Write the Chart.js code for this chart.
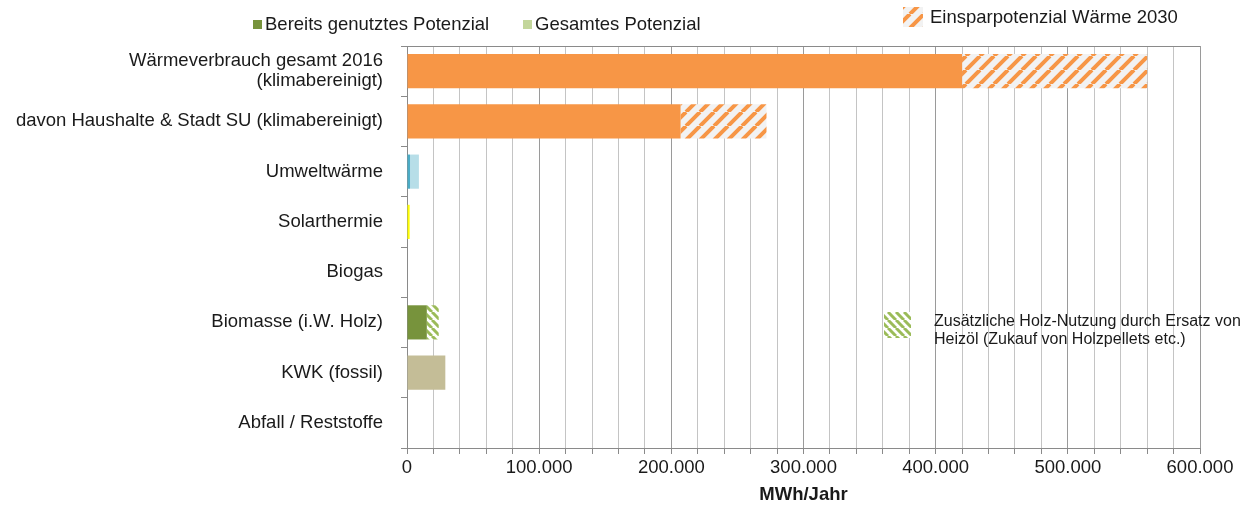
<!DOCTYPE html>
<html>
<head>
<meta charset="utf-8">
<script src="https://cdn.jsdelivr.net/npm/chart.js@4/dist/chart.umd.min.js"></script>
<style>
  html, body { margin: 0; padding: 0; background: #fff; }
  #wrap { width: 1252px; height: 506px; position: relative; }
</style>
</head>
<body>
<div id="wrap"><canvas id="chart"></canvas></div>
<script>
// categories top to bottom
const categories = [
  ["Wärmeverbrauch gesamt 2016", "(klimabereinigt)"],
  "davon Haushalte & Stadt SU (klimabereinigt)",
  "Umweltwärme",
  "Solarthermie",
  "Biogas",
  "Biomasse (i.W. Holz)",
  "KWK (fossil)",
  "Abfall / Reststoffe"
];
// MWh/Jahr, already used part (first segment)
const genutzt = [420000, 207000, 2300, 2000, 0, 15000, 29000, 0];
// additional potential / savings (second segment)
const zusatz = [140000, 65000, 6700, 0, 0, 9000, 0, 0];
const xTicks = [0, 100000, 200000, 300000, 400000, 500000, 600000];

const FONT = "'Liberation Sans', Arial, sans-serif";
const FS = 18.5;

// striped fills
function stripes(bg, fg, size, dir, w) {
  const c = document.createElement("canvas");
  c.width = c.height = size;
  const x = c.getContext("2d");
  x.fillStyle = bg;
  x.fillRect(0, 0, size, size);
  x.strokeStyle = fg;
  x.lineWidth = w;
  x.beginPath();
  for (let k = -1; k <= 1; k++) {
    if (dir > 0) { x.moveTo(k * size, size); x.lineTo(k * size + size, 0); }
    else { x.moveTo(k * size, 0); x.lineTo(k * size + size, size); }
  }
  x.stroke();
  return x.createPattern(c, "repeat");
}
const orangeHatch = stripes("#F2F2F2", "#F79646", 14, 1, 4);
const greenHatch = stripes("#FFFFFF", "#9BBB59", 8, -1, 3);

const genutztColors = ["#F79646", "#F79646", "#4BACC6", "#FFFF00", "#FFFF00", "#77933C", "#C4BD97", "#C4BD97"];
const zusatzColors = [orangeHatch, orangeHatch, "#B7DEE8", "#FFFF00", "#FFFF00", greenHatch, "#C4BD97", "#C4BD97"];

function fmt(v) {
  return String(v).replace(/\B(?=(\d{3})+(?!\d))/g, ".");
}

// legends are placed freely, like in the original
const legendPlugin = {
  id: "freeLegend",
  afterDraw(chart) {
    const ctx = chart.ctx;
    ctx.save();
    ctx.font = FS + "px " + FONT;
    ctx.fillStyle = "#1a1a1a";
    ctx.textBaseline = "middle";
    ctx.textAlign = "left";

    ctx.fillStyle = "#77933C";
    ctx.fillRect(253, 20, 9, 9);
    ctx.fillStyle = "#1a1a1a";
    ctx.fillText("Bereits genutztes Potenzial", 265, 25);

    ctx.fillStyle = "#C3D69B";
    ctx.fillRect(523, 20, 9, 9);
    ctx.fillStyle = "#1a1a1a";
    ctx.fillText("Gesamtes Potenzial", 535, 25);

    ctx.fillStyle = orangeHatch;
    ctx.fillRect(903, 7, 20, 20);
    ctx.fillStyle = "#1a1a1a";
    ctx.fillText("Einsparpotenzial Wärme 2030", 930, 18);

    ctx.fillStyle = greenHatch;
    ctx.fillRect(884, 312, 27, 26);
    ctx.fillStyle = "#1a1a1a";
    ctx.font = "16px " + FONT;
    ctx.fillText("Zusätzliche Holz-Nutzung durch Ersatz von", 934, 322);
    ctx.fillText("Heizöl (Zukauf von Holzpellets etc.)", 934, 340);
    ctx.restore();
  }
};

new Chart(document.getElementById("chart"), {
  type: "bar",
  data: {
    labels: categories,
    datasets: [
      { label: "Bereits genutztes Potenzial", data: genutzt, backgroundColor: genutztColors },
      { label: "Zusätzlich", data: zusatz, backgroundColor: zusatzColors }
    ]
  },
  options: {
    indexAxis: "y",
    responsive: true,
    maintainAspectRatio: false,
    animation: false,
    categoryPercentage: 1,
    barPercentage: 0.68,
    layout: { padding: { top: 46, right: 52, left: 0, bottom: 0 } },
    plugins: { legend: { display: false }, tooltip: { enabled: false } },
    scales: {
      x: {
        stacked: true,
        min: 0,
        max: 600000,
        afterBuildTicks(scale) {
          const t = [];
          for (let v = 0; v <= 600000; v += 20000) t.push({ value: v });
          scale.ticks = t;
        },
        afterFit(scale) { scale.height = 58; },
        ticks: {
          autoSkip: false,
          maxRotation: 0,
          color: "#1a1a1a",
          font: { size: FS, family: FONT },
          padding: 3,
          callback: (v) => (xTicks.includes(v) ? fmt(v) : "")
        },
        grid: {
          color: (c) => (c.tick && c.tick.value % 100000 === 0 ? "#9a9a9a" : "#c4c4c4"),
          tickColor: "#8a8a8a",
          tickLength: 6
        },
        border: { color: "#8a8a8a" },
        title: {
          display: true,
          text: "MWh/Jahr",
          color: "#1a1a1a",
          font: { size: FS, weight: "bold", family: FONT },
          padding: { top: 2, bottom: 0 }
        }
      },
      y: {
        stacked: true,
        afterFit(scale) { scale.width = 407; },
        ticks: {
          color: "#1a1a1a",
          font: { size: FS, family: FONT, lineHeight: 1.1 },
          padding: 18
        },
        grid: {
          offset: true,
          color: (c) => (c.index === 0 ? "#8a8a8a" : "rgba(0,0,0,0)"),
          tickColor: "#8a8a8a",
          tickLength: 6
        },
        border: { color: "#8a8a8a" }
      }
    }
  },
  plugins: [legendPlugin]
});
</script>
</body>
</html>
